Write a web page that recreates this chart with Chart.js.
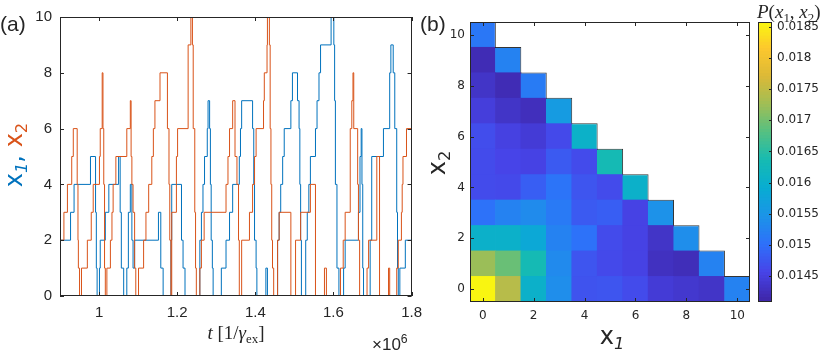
<!DOCTYPE html>
<html lang="en">
<head>
<meta charset="UTF-8">
<title>Occupation traces and joint distribution</title>
<style>
  body { margin: 0; background: #fff; }
  #fig { position: relative; width: 830px; height: 351px; overflow: hidden; background: #fff; color: #262626; }
  #fig canvas { position: absolute; top: 0; }
  .lbl { position: absolute; white-space: nowrap; line-height: 1; }
  .lbl sub { font-size: 68%; vertical-align: -0.32em; line-height: 0; }
  .lbl sup { font-size: 72%; vertical-align: 0.55em; line-height: 0; }
  .rot { transform: rotate(-90deg); text-align: center; }
</style>
<script src="https://cdn.jsdelivr.net/npm/chart.js"></script>
</head>
<body>
<div id="fig">
  <canvas id="traces" width="430" height="351" style="left:0"></canvas>
  <canvas id="heat" width="340" height="351" style="left:420px"></canvas>
  <canvas id="cbar" width="80" height="351" style="left:750px"></canvas>

  <div class="lbl" style="left:0; top:12px; font:21px 'Liberation Sans';">(a)</div>
  <div class="lbl" style="left:420px; top:12px; font:21px 'Liberation Sans';">(b)</div>

  <div class="lbl rot" style="left:-85px; top:140px; width:200px; height:30px; line-height:30px; font:24px 'DejaVu Sans';"><span style="color:#0072BD">x<sub><i>1</i></sub>,</span> <span style="color:#D95319">x<sub>2</sub></span></div>
  <div class="lbl" style="left:136px; top:322px; width:200px; text-align:center; font:19px 'Liberation Serif';"><i>t</i> [1/<i>γ</i><sub>ex</sub>]</div>
  <div class="lbl" style="left:372px; top:335px; font:17px 'Liberation Sans';">×10<sup>6</sup></div>

  <div class="lbl rot" style="left:388px; top:148px; width:100px; height:30px; line-height:30px; font:24px 'DejaVu Sans';">x<sub>2</sub></div>
  <div class="lbl" style="left:562px; top:322px; width:100px; text-align:center; font:24px 'DejaVu Sans';">x<sub><i>1</i></sub></div>
  <div class="lbl" style="left:757px; top:1px; font:19px 'Liberation Serif';"><i>P</i>(<i>x</i><sub>1</sub>, <i>x</i><sub>2</sub>)</div>
</div>

<script>
// (a) occupation traces, t in units of 10^6 / gamma_ex, value holds until next switch
const x1Times = [
  0.900, 0.927, 0.936, 0.978, 0.991, 0.993, 0.995, 1.001, 1.003, 1.016,
  1.025, 1.050, 1.054, 1.057, 1.063, 1.071, 1.075, 1.080, 1.084, 1.087,
  1.091, 1.152, 1.158, 1.164, 1.184, 1.186, 1.211, 1.215, 1.220, 1.258,
  1.262, 1.266, 1.270, 1.277, 1.279, 1.283, 1.285, 1.287, 1.290, 1.292,
  1.313, 1.325, 1.334, 1.342, 1.359, 1.362, 1.365, 1.393, 1.396, 1.398,
  1.402, 1.404, 1.427, 1.431, 1.457, 1.461, 1.465, 1.470, 1.474, 1.491,
  1.495, 1.508, 1.512, 1.514, 1.516, 1.518, 1.529, 1.533, 1.537, 1.541,
  1.554, 1.558, 1.563, 1.567, 1.594, 1.601, 1.603, 1.605, 1.609, 1.614,
  1.626, 1.630, 1.664, 1.668, 1.671, 1.673, 1.675, 1.677, 1.694, 1.698,
  1.728, 1.744, 1.747, 1.753, 1.757, 1.762, 1.764, 1.766, 1.770, 1.784,
  1.800
];
const x1Levels = [
  2, 3, 4, 5, 3, 1, 0, 1, 2, 3,
  4, 5, 3, 1, 0, 1, 3, 4, 2, 1,
  2, 3, 1, 0, 2, 4, 2, 1, 0, 2,
  3, 4, 5, 6, 7, 6, 4, 2, 1, 0,
  1, 2, 3, 4, 5, 6, 7, 6, 4, 2,
  1, 0, 1, 0, 2, 3, 4, 5, 6, 7,
  8, 7, 6, 4, 2, 0, 2, 3, 4, 5,
  6, 7, 8, 9, 10, 9, 7, 4, 1, 0,
  1, 2, 3, 5, 6, 4, 1, 0, 2, 5,
  6, 8, 9, 8, 6, 3, 1, 0, 1, 2,
  2
];
const x2Times = [
  0.900, 0.910, 0.919, 0.930, 0.934, 0.944, 0.946, 0.947, 0.950, 0.955,
  0.970, 0.980, 0.985, 1.001, 1.003, 1.008, 1.010, 1.012, 1.014, 1.016,
  1.020, 1.029, 1.033, 1.036, 1.043, 1.071, 1.080, 1.082, 1.084, 1.087,
  1.091, 1.094, 1.101, 1.114, 1.120, 1.127, 1.135, 1.139, 1.143, 1.156,
  1.175, 1.179, 1.181, 1.184, 1.186, 1.198, 1.201, 1.228, 1.235, 1.239,
  1.241, 1.245, 1.247, 1.249, 1.258, 1.262, 1.269, 1.325, 1.330, 1.334,
  1.342, 1.348, 1.353, 1.357, 1.359, 1.365, 1.385, 1.393, 1.398, 1.402,
  1.421, 1.423, 1.430, 1.431, 1.436, 1.438, 1.440, 1.442, 1.444, 1.447,
  1.457, 1.461, 1.491, 1.503, 1.516, 1.541, 1.554, 1.577, 1.582, 1.618,
  1.625, 1.630, 1.643, 1.647, 1.650, 1.652, 1.662, 1.664, 1.667, 1.686,
  1.690, 1.711, 1.718, 1.741, 1.744, 1.762, 1.766, 1.774, 1.776, 1.778,
  1.787, 1.800
];
const x2Levels = [
  2, 3, 4, 5, 6, 4, 2, 1, 0, 1,
  2, 3, 4, 5, 6, 8, 6, 4, 1, 0,
  1, 2, 3, 4, 5, 6, 7, 5, 4, 3,
  1, 0, 1, 2, 3, 4, 5, 6, 7, 8,
  6, 4, 2, 0, 3, 5, 6, 9, 10, 9,
  6, 3, 1, 0, 1, 2, 3, 4, 5, 6,
  7, 5, 4, 2, 0, 2, 3, 4, 5, 6,
  7, 8, 9, 10, 9, 6, 4, 2, 1, 0,
  2, 3, 0, 2, 3, 4, 0, 1, 0, 1,
  2, 3, 6, 7, 8, 6, 4, 2, 0, 1,
  2, 5, 0, 1, 0, 1, 2, 3, 4, 5,
  6, 6
];
const tTicks = [1, 1.2, 1.4, 1.6, 1.8];
const levelTicks = [0, 2, 4, 6, 8, 10];

// (b) joint distribution, pRows[k] = P(x1, x2 = k) for x1 = 0 .. 10-k
const occupations = ['0', '1', '2', '3', '4', '5', '6', '7', '8', '9', '10'];
const pRows = [
  [0.01853, 0.0174, 0.0160, 0.01535, 0.01468, 0.0147, 0.0146, 0.0144, 0.01435, 0.0143, 0.0152],
  [0.0172, 0.0169, 0.0163, 0.0153, 0.0147, 0.01458, 0.0145, 0.01425, 0.0142, 0.0152],
  [0.0160, 0.0160, 0.0158, 0.0152, 0.0150, 0.0146, 0.0145, 0.0143, 0.01535],
  [0.0150, 0.0152, 0.01532, 0.0151, 0.01475, 0.0148, 0.0145, 0.0154],
  [0.0146, 0.01458, 0.0148, 0.01503, 0.0147, 0.0146, 0.0160],
  [0.0146, 0.01453, 0.0145, 0.01475, 0.0146, 0.0163],
  [0.01462, 0.01448, 0.0144, 0.01458, 0.01602],
  [0.01444, 0.0143, 0.01422, 0.01557],
  [0.0143, 0.01417, 0.01512],
  [0.01417, 0.0152],
  [0.01507]
];
const heatTicks = [0, 2, 4, 6, 8, 10];
const cbTicks = [0.0145, 0.015, 0.0155, 0.016, 0.0165, 0.017, 0.0175, 0.018, 0.0185];
const cbMin = 0.01408;
const cbMax = 0.01858;

// parula approximation
const parulaStops = [
  [62, 38, 168], [71, 68, 232], [46, 112, 250], [28, 148, 232], [8, 172, 210],
  [22, 187, 178], [85, 192, 130], [160, 190, 85], [220, 185, 55], [253, 200, 45],
  [249, 251, 14]
];
function parula(v) {
  const f = Math.min(1, Math.max(0, (v - cbMin) / (cbMax - cbMin)));
  const pos = f * (parulaStops.length - 1);
  const i = Math.min(Math.floor(pos), parulaStops.length - 2);
  const w = pos - i;
  const a = parulaStops[i], b = parulaStops[i + 1];
  const c = a.map((ch, k) => Math.round(ch + (b[k] - ch) * w));
  return `rgb(${c[0]},${c[1]},${c[2]})`;
}

// box around the axes with inward tick marks, like the original figure
const frameTicks = {
  id: 'frameTicks',
  afterDatasetsDraw(chart, args, o) {
    const { ctx, chartArea: a, scales } = chart;
    const len = o.len || 4;
    ctx.save();
    ctx.strokeStyle = o.color || '#262626';
    ctx.lineWidth = 1;
    ctx.beginPath();
    (o.xTicks || []).forEach(v => {
      const px = Math.round(scales.x.getPixelForValue(v)) + 0.5;
      ctx.moveTo(px, a.bottom); ctx.lineTo(px, a.bottom - len);
      ctx.moveTo(px, a.top); ctx.lineTo(px, a.top + len);
    });
    (o.yTicks || []).forEach(v => {
      const py = Math.round(scales.y.getPixelForValue(v)) + 0.5;
      if (o.leftTicks !== false) { ctx.moveTo(a.left, py); ctx.lineTo(a.left + len, py); }
      ctx.moveTo(a.right, py); ctx.lineTo(a.right - len, py);
    });
    ctx.stroke();
    ctx.strokeRect(Math.round(a.left) + 0.5, Math.round(a.top) + 0.5,
      Math.round(a.right - a.left) - 1, Math.round(a.bottom - a.top) - 1);
    ctx.restore();
  }
};

Chart.defaults.color = '#262626';
Chart.defaults.animation = false;

const noLegend = { legend: { display: false }, tooltip: { enabled: false } };
const setTicks = list => axis => { axis.ticks = list.map(v => ({ value: v })); };

// ---- (a) traces
new Chart(document.getElementById('traces'), {
  type: 'line',
  data: {
    datasets: [
      {
        data: x2Times.map((t, i) => ({ x: t, y: x2Levels[i] })),
        borderColor: '#D95319', borderWidth: 1, pointRadius: 0, stepped: true
      },
      {
        data: x1Times.map((t, i) => ({ x: t, y: x1Levels[i] })),
        borderColor: '#0072BD', borderWidth: 1, pointRadius: 0, stepped: true
      }
    ]
  },
  options: {
    responsive: false,
    layout: { padding: { top: 14, right: 17, left: 0, bottom: 0 } },
    plugins: { ...noLegend, frameTicks: { xTicks: tTicks, yTicks: levelTicks, len: 4 } },
    scales: {
      x: {
        type: 'linear', min: 0.9, max: 1.8,
        afterBuildTicks: setTicks(tTicks),
        afterFit: s => { s.height = 55; },
        grid: { display: false, drawTicks: false },
        border: { display: false },
        ticks: { font: { family: 'Liberation Sans', size: 15 }, padding: 8, maxRotation: 0, callback: v => String(v) }
      },
      y: {
        min: 0, max: 10,
        afterBuildTicks: setTicks(levelTicks),
        afterFit: s => { s.width = 60; },
        grid: { display: false, drawTicks: false },
        border: { display: false },
        ticks: { font: { family: 'Liberation Sans', size: 15 }, padding: 8 }
      }
    }
  },
  plugins: [frameTicks]
});

// ---- (b) heat map: one floating bar per cell
const cellPad = 0.02;
const heatDatasets = pRows.map((row, x2) => ({
  data: occupations.map((_, x1) => x1 < row.length ? [x2 - 0.5 - cellPad, x2 + 0.5 + cellPad] : null),
  backgroundColor: occupations.map((_, x1) => x1 < row.length ? parula(row[x1]) : 'rgba(0,0,0,0)'),
  borderColor: 'rgba(30,30,30,0.9)',
  borderWidth: ctx => ctx.dataIndex === row.length - 1 ? { top: 1, right: 1, bottom: 0, left: 0 } : 0,
  borderSkipped: false,
  grouped: false,
  barPercentage: 1.03,
  categoryPercentage: 1
}));

new Chart(document.getElementById('heat'), {
  type: 'bar',
  data: { labels: occupations, datasets: heatDatasets },
  options: {
    responsive: false,
    layout: { padding: { top: 22, right: 10, left: 0, bottom: 0 } },
    plugins: { ...noLegend, frameTicks: { xTicks: heatTicks, yTicks: heatTicks, len: 4 } },
    scales: {
      x: {
        type: 'category',
        afterBuildTicks: setTicks(heatTicks),
        afterFit: s => { s.height = 49; },
        grid: { display: false, drawTicks: false },
        border: { display: false },
        ticks: { font: { family: 'DejaVu Sans', size: 12 }, padding: 7, maxRotation: 0, autoSkip: false }
      },
      y: {
        type: 'linear', min: -0.5, max: 10.5,
        afterBuildTicks: setTicks(heatTicks),
        afterFit: s => { s.width = 50; },
        grid: { display: false, drawTicks: false },
        border: { display: false },
        ticks: { font: { family: 'DejaVu Sans', size: 12 }, padding: 5 }
      }
    }
  },
  plugins: [frameTicks]
});

// ---- colour bar
const cbSteps = 90;
const cbDatasets = Array.from({ length: cbSteps }, (_, i) => {
  const lo = cbMin + (cbMax - cbMin) * i / cbSteps;
  const hi = Math.min(cbMax, cbMin + (cbMax - cbMin) * (i + 1.5) / cbSteps);
  return {
    data: [[lo, hi]],
    backgroundColor: parula(cbMin + (cbMax - cbMin) * (i + 0.5) / cbSteps),
    borderWidth: 0, grouped: false, barPercentage: 1, categoryPercentage: 1
  };
});

new Chart(document.getElementById('cbar'), {
  type: 'bar',
  data: { labels: [''], datasets: cbDatasets },
  options: {
    responsive: false,
    layout: { padding: { top: 22, left: 8, bottom: 49, right: 0 } },
    plugins: { ...noLegend, frameTicks: { yTicks: cbTicks, len: 3, leftTicks: false } },
    scales: {
      x: { display: false },
      y: {
        position: 'right', min: cbMin, max: cbMax,
        afterBuildTicks: setTicks(cbTicks),
        afterFit: s => { s.width = 58; },
        grid: { display: false, drawTicks: false },
        border: { display: false },
        ticks: { font: { family: 'DejaVu Sans', size: 12 }, padding: 5, callback: v => String(v) }
      }
    }
  },
  plugins: [frameTicks]
});
</script>
</body>
</html>
